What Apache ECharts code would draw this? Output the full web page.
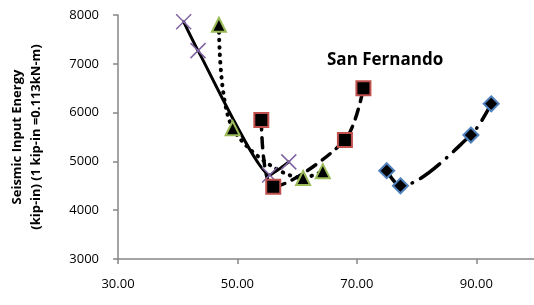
<!DOCTYPE html>
<html>
<head>
<meta charset="utf-8">
<script src="https://cdn.jsdelivr.net/npm/echarts@6/dist/echarts.min.js"></script>
<style>
  html, body { margin: 0; padding: 0; background: #fff; }
  #chart { width: 534px; height: 305px; }
</style>
</head>
<body>
<div id="chart"></div>
<script>
'use strict';

// 数据
const crossPoints = [[41.0, 7860], [43.4, 7270], [55.4, 4720], [58.6, 4990]];
const trianglePoints = [[46.9, 7800], [49.2, 5680], [61.0, 4660], [64.3, 4800]];
const squarePoints = [[54.0, 5850], [56.0, 4480], [68.0, 5440], [71.1, 6500]];
const diamondPoints = [[75.0, 4810], [77.3, 4500], [89.1, 5540], [92.5, 6180]];

const xTicks = [30, 50, 70, 90];
const yTicks = [3000, 4000, 5000, 6000, 7000, 8000];

const FONT = '"Open Sans", "Liberation Sans", sans-serif';
const AXIS_COLOR = '#868686';

const chart = echarts.init(document.getElementById('chart'));

function lineSeries(name, data, symbol, size, border, lineType, width, smooth) {
    return {
        name: name,
        type: 'line',
        data: data,
        smooth: smooth,
        symbol: symbol,
        symbolSize: size,
        showAllSymbol: true,
        itemStyle: { color: '#000', borderColor: border, borderWidth: 2 },
        lineStyle: { color: '#000', width: width, type: lineType, cap: 'round' },
        emphasis: { disabled: true },
        animation: false
    };
}

const option = {
    animation: false,
    grid: { left: 118, top: 15, width: 418, height: 244, outerBoundsMode: 'none', containLabel: false },
    title: {
        text: 'San Fernando',
        left: 322,
        top: 47,
        textStyle: { fontFamily: FONT, fontSize: 17, fontWeight: 'bold', color: '#000' }
    },
    xAxis: {
        type: 'value',
        min: xTicks[0],
        max: 100,
        interval: 20,
        splitLine: { show: false },
        axisLine: { lineStyle: { color: AXIS_COLOR, width: 1.5 } },
        axisTick: { length: 5, lineStyle: { color: AXIS_COLOR, width: 1.5 } },
        axisLabel: {
            margin: 19,
            fontFamily: FONT,
            fontSize: 13,
            color: '#000',
            formatter: v => xTicks.includes(v) ? v.toFixed(2) : ''
        }
    },
    yAxis: {
        type: 'value',
        min: yTicks[0],
        max: yTicks[yTicks.length - 1],
        interval: 1000,
        name: 'Seismic Input Energy\n(kip-in) (1 kip-in =0.113kN-m)',
        nameLocation: 'middle',
        nameGap: 72,
        nameTextStyle: { fontFamily: FONT, fontSize: 13, fontWeight: 'bold', color: '#000', lineHeight: 19 },
        splitLine: { show: false },
        axisLine: { show: true, lineStyle: { color: AXIS_COLOR, width: 1.5 } },
        axisTick: { show: true, length: 5, lineStyle: { color: AXIS_COLOR, width: 1.5 } },
        axisLabel: {
            margin: 19,
            fontFamily: FONT,
            fontSize: 13,
            color: '#000',
            formatter: v => String(v)
        }
    },
    series: [
        lineSeries('cross', crossPoints, 'path://M0,0L10,10M10,0L0,10', 15, '#8064A2', 'solid', 3, 0.15),
        lineSeries('triangle', trianglePoints, 'triangle', 14, '#9BBB59', [0.5, 7], 4, 0.3),
        lineSeries('square', squarePoints, 'rect', 14, '#C0504D', [10, 8], 3.5, 0.3),
        lineSeries('diamond', diamondPoints, 'diamond', 15, '#4F81BD', [24, 9, 0.5, 9], 3.5, 0.3)
    ]
};

// X 标记只描边
option.series[0].itemStyle = { color: 'rgba(0,0,0,0)', borderColor: '#8064A2', borderWidth: 1.5 };

chart.setOption(option);
</script>
</body>
</html>
